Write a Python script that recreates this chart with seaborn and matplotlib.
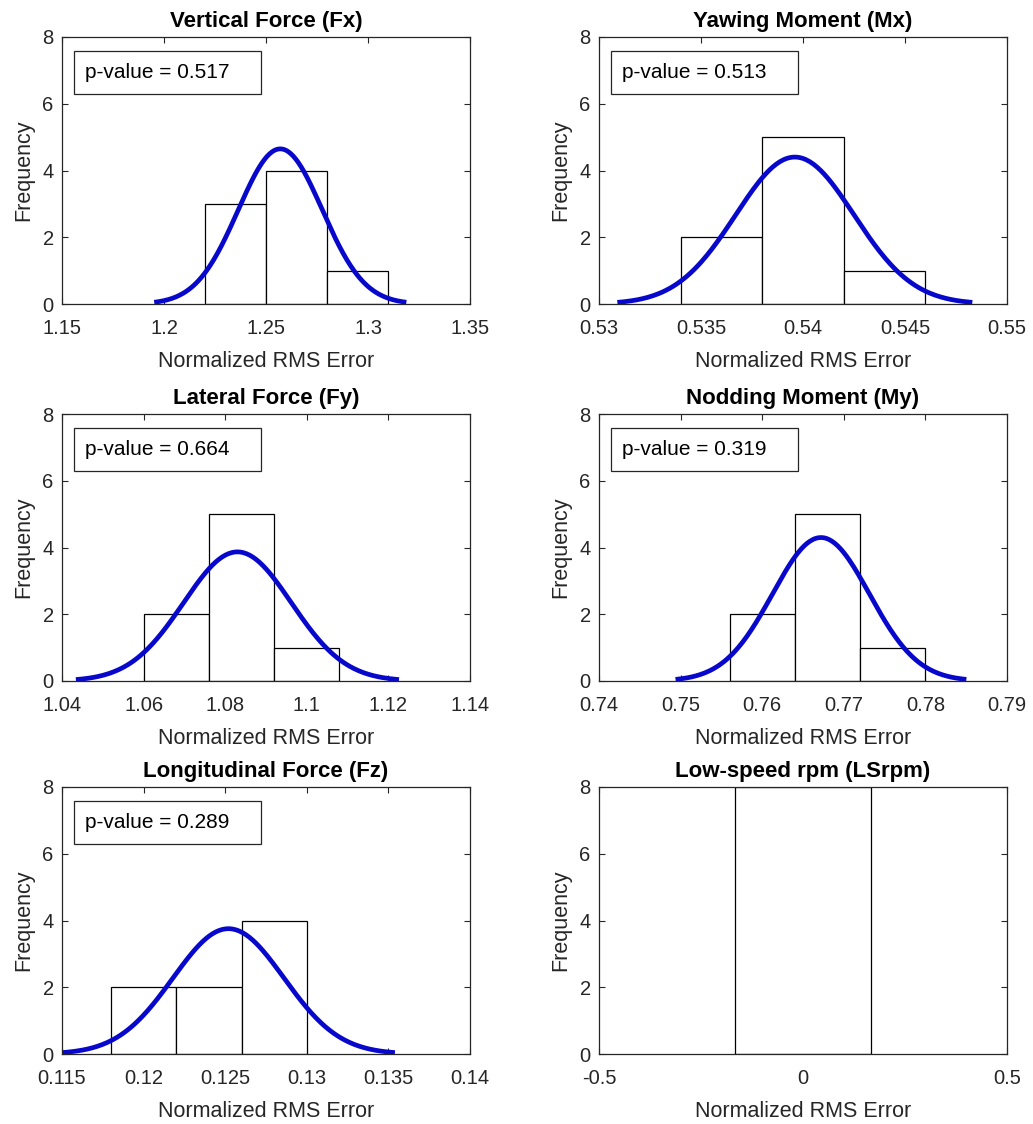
import numpy as np
import pandas as pd
import matplotlib
matplotlib.use("Agg")
import matplotlib.pyplot as plt
from matplotlib.patches import Rectangle
import seaborn as sns

# ---------------- data ----------------
titles = ["Vertical Force (Fx)", "Yawing Moment (Mx)", "Lateral Force (Fy)",
          "Nodding Moment (My)", "Longitudinal Force (Fz)", "Low-speed rpm (LSrpm)"]
bin_edges = [
    [1.22, 1.25, 1.28, 1.31],
    [0.534, 0.538, 0.542, 0.546],
    [1.060, 1.076, 1.092, 1.108],
    [0.756, 0.764, 0.772, 0.780],
    [0.118, 0.122, 0.126, 0.130],
    [-1/6, 1/6],
]
bin_counts = [
    [3, 4, 1],
    [2, 5, 1],
    [2, 5, 1],
    [2, 5, 1],
    [2, 2, 4],
    [8],
]
fit_mu = [1.257, 0.5396, 1.083, 0.7672, 0.1252, None]
fit_sigma = [0.0206, 0.0029, 0.0132, 0.00594, 0.0034, None]
p_values = ["0.517", "0.513", "0.664", "0.319", "0.289", None]
x_limits = [(1.15, 1.35), (0.53, 0.55), (1.04, 1.14), (0.74, 0.79), (0.115, 0.14), (-0.5, 0.5)]
x_ticks = [
    [1.15, 1.2, 1.25, 1.3, 1.35],
    [0.53, 0.535, 0.54, 0.545, 0.55],
    [1.04, 1.06, 1.08, 1.1, 1.12, 1.14],
    [0.74, 0.75, 0.76, 0.77, 0.78, 0.79],
    [0.115, 0.12, 0.125, 0.13, 0.135, 0.14],
    [-0.5, 0, 0.5],
]
x_tick_labels = [
    ["1.15", "1.2", "1.25", "1.3", "1.35"],
    ["0.53", "0.535", "0.54", "0.545", "0.55"],
    ["1.04", "1.06", "1.08", "1.1", "1.12", "1.14"],
    ["0.74", "0.75", "0.76", "0.77", "0.78", "0.79"],
    ["0.115", "0.12", "0.125", "0.13", "0.135", "0.14"],
    ["-0.5", "0", "0.5"],
]
y_ticks = [0, 2, 4, 6, 8]

# ---------------- style ----------------
sns.set_theme(style="white")
plt.rcParams["font.family"] = ["Liberation Sans", "DejaVu Sans"]
axis_col = "#262626"
curve_col = "#0808cc"

fig = plt.figure(figsize=(10.33, 11.24), dpi=100)
W, H = 1033, 1124
col_left = [62, 599]
ax_w = 408
row_top = [37, 414, 787]
ax_h = 267

for i in range(6):
    r, c = divmod(i, 2)
    ax = fig.add_axes([col_left[c] / W, 1 - (row_top[r] + ax_h) / H, ax_w / W, ax_h / H])
    edges = bin_edges[i]
    counts = bin_counts[i]
    centers = [(edges[k] + edges[k + 1]) / 2 for k in range(len(counts))]
    df = pd.DataFrame({"x": centers, "w": counts})
    sns.histplot(data=df, x="x", weights="w", bins=edges, ax=ax, stat="count",
                 color="white", edgecolor="black", linewidth=0.9, alpha=1.0)
    if fit_mu[i] is not None:
        mu, sd = fit_mu[i], fit_sigma[i]
        n = sum(counts)
        bw = edges[1] - edges[0]
        xs = np.linspace(mu - 3 * sd, mu + 3 * sd, 200)
        ys = n * bw * np.exp(-0.5 * ((xs - mu) / sd) ** 2) / (sd * np.sqrt(2 * np.pi))
        sns.lineplot(x=xs, y=ys, ax=ax, color=curve_col, linewidth=3.4, solid_capstyle="butt")
    if p_values[i] is not None:
        ax.add_patch(Rectangle((0.029, 0.786), 0.458, 0.162, transform=ax.transAxes,
                               facecolor="white", edgecolor=axis_col, linewidth=0.9, zorder=5))
        ax.text(0.056, 0.866, "p-value = " + p_values[i], transform=ax.transAxes,
                ha="left", va="center", fontsize=15, color="black", zorder=6)

    ax.set_xlim(*x_limits[i])
    ax.set_ylim(0, 8)
    ax.set_xticks(x_ticks[i])
    ax.set_xticklabels(x_tick_labels[i])
    ax.set_yticks(y_ticks)
    ax.set_yticklabels([str(v) for v in y_ticks])
    ax.tick_params(direction="in", length=4, width=0.8, colors=axis_col,
                   labelsize=14.5, top=True, right=True, bottom=True, left=True)
    ax.tick_params(axis="x", pad=11)
    ax.tick_params(axis="y", pad=6)
    for s in ax.spines.values():
        s.set_color(axis_col)
        s.set_linewidth(0.9)
    ax.set_xlabel("Normalized RMS Error", fontsize=15.5, color=axis_col, labelpad=9)
    ax.set_ylabel("Frequency", fontsize=15.5, color=axis_col, labelpad=6)
    ax.set_title(titles[i], fontsize=16, fontweight="bold", color="black", pad=7)
    ax.set_facecolor("white")

fig.savefig("out.png", dpi=100, facecolor="white")
